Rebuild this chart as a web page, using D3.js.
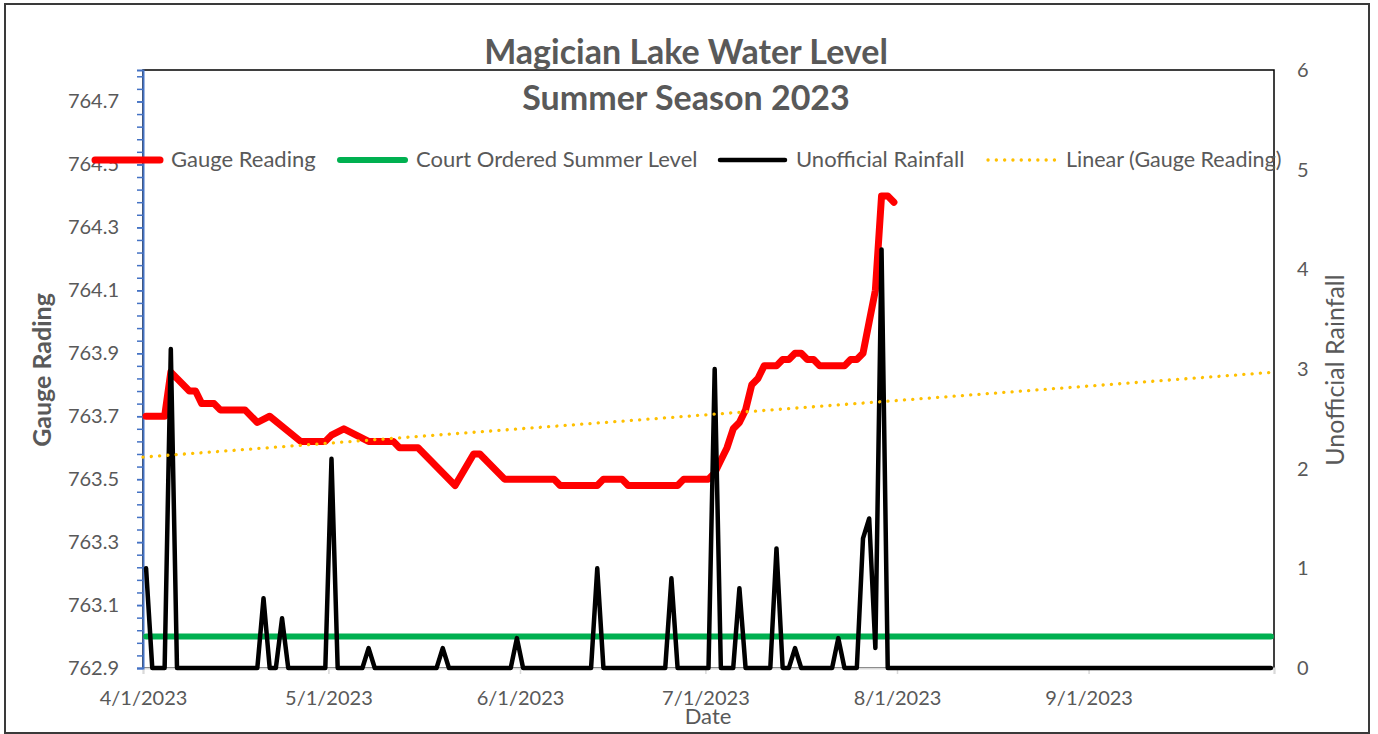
<!DOCTYPE html>
<html><head><meta charset="utf-8">
<script src="https://cdn.jsdelivr.net/npm/d3@7"></script>
<style>
body{margin:0;background:#fff}
text{font-family:Lato,"Open Sans",sans-serif;fill:#595959}
</style>
</head><body>
<svg id="chart" width="1378" height="734"></svg>
<script>
// ---- data ----
const gaugeDates = ["2023-04-01","2023-04-04","2023-04-05","2023-04-08","2023-04-09","2023-04-10","2023-04-12","2023-04-13","2023-04-17","2023-04-19","2023-04-21","2023-04-26","2023-04-30","2023-05-01","2023-05-03","2023-05-05","2023-05-07","2023-05-11","2023-05-12","2023-05-15","2023-05-21","2023-05-24","2023-05-25","2023-05-29","2023-06-06","2023-06-07","2023-06-13","2023-06-14","2023-06-17","2023-06-18","2023-06-26","2023-06-27","2023-07-01","2023-07-02","2023-07-03","2023-07-04","2023-07-05","2023-07-06","2023-07-07","2023-07-08","2023-07-09","2023-07-10","2023-07-12","2023-07-13","2023-07-14","2023-07-15","2023-07-16","2023-07-17","2023-07-18","2023-07-19","2023-07-23","2023-07-24","2023-07-25","2023-07-26","2023-07-27","2023-07-28","2023-07-29","2023-07-30","2023-07-31"];
const gaugeValues = [763.70,763.70,763.84,763.78,763.78,763.74,763.74,763.72,763.72,763.68,763.70,763.62,763.62,763.64,763.66,763.64,763.62,763.62,763.60,763.60,763.48,763.58,763.58,763.50,763.50,763.48,763.48,763.50,763.50,763.48,763.48,763.50,763.50,763.52,763.56,763.60,763.66,763.68,763.72,763.80,763.82,763.86,763.86,763.88,763.88,763.90,763.90,763.88,763.88,763.86,763.86,763.88,763.88,763.90,764.00,764.10,764.40,764.40,764.38];

const rainDates = ["2023-04-01","2023-04-02","2023-04-04","2023-04-05","2023-04-06","2023-04-19","2023-04-20","2023-04-21","2023-04-22","2023-04-23","2023-04-24","2023-04-30","2023-05-01","2023-05-02","2023-05-06","2023-05-07","2023-05-08","2023-05-18","2023-05-19","2023-05-20","2023-05-30","2023-05-31","2023-06-01","2023-06-12","2023-06-13","2023-06-14","2023-06-24","2023-06-25","2023-06-26","2023-07-01","2023-07-02","2023-07-03","2023-07-05","2023-07-06","2023-07-07","2023-07-11","2023-07-12","2023-07-13","2023-07-14","2023-07-15","2023-07-16","2023-07-21","2023-07-22","2023-07-23","2023-07-25","2023-07-26","2023-07-27","2023-07-28","2023-07-29","2023-07-30","2023-09-30"];
const rainValues = [1.0,0,0,3.2,0,0,0.7,0,0,0.5,0,0,2.1,0,0,0.2,0,0,0.2,0,0,0.3,0,0,1.0,0,0,0.9,0,0,3.0,0,0,0.8,0,0,1.2,0,0,0.2,0,0,0.3,0,0,1.3,1.5,0.2,4.2,0,0];

const courtDates = ["2023-04-01","2023-09-30"];
const courtValues = [763.0,763.0];

const trendDates = ["2023-04-01","2023-10-01"];
const trendValues = [763.57,763.84];

const leftMajorTicks = [762.9,763.1,763.3,763.5,763.7,763.9,764.1,764.3,764.5,764.7];
const leftMinorStep = 0.04;
const rightTicks = [0,1,2,3,4,5,6];
const xTickDates = ["2023-04-01","2023-05-01","2023-06-01","2023-07-01","2023-08-01","2023-09-01","2023-10-01"];
const xTickLabels = ["4/1/2023","5/1/2023","6/1/2023","7/1/2023","8/1/2023","9/1/2023",""];
const legendLabels = ["Gauge Reading","Court Ordered Summer Level","Unofficial Rainfall","Linear (Gauge Reading)"];
const titleLines = ["Magician Lake Water Level","Summer Season 2023"];

// ---- layout ----
const svg = d3.select("#chart");
const L = 143, R = 1274, T = 70, B = 668;
const parse = d3.utcParse("%Y-%m-%d");
const half = 12*3600*1000;
const x = d3.scaleUtc().domain([parse("2023-04-01"), parse("2023-10-01")]).range([L, R]);
const yL = d3.scaleLinear().domain([762.9, 764.8]).range([B, T]);
const yR = d3.scaleLinear().domain([0, 6]).range([B, T]);
const xc = s => x(new Date(parse(s).getTime() + half));

// outer border
svg.append("rect").attr("x",5).attr("y",4).attr("width",1364).attr("height",729)
  .attr("fill","#fff").attr("stroke","#3a3a3a").attr("stroke-width",2);

// plot border
svg.append("rect").attr("x",L).attr("y",T).attr("width",R-L).attr("height",B-T)
  .attr("fill","none").attr("stroke","#000").attr("stroke-width",1.5);

// x axis
const xAxis = svg.append("g").attr("transform",`translate(0,${B})`)
  .call(d3.axisBottom(x).tickValues(xTickDates.map(parse)).tickSize(6).tickPadding(17)
    .tickFormat((d,i)=>xTickLabels[i]));
xAxis.select(".domain").attr("stroke","#d9d9d9").attr("stroke-width",2);
xAxis.selectAll(".tick line").attr("stroke","#d9d9d9").attr("stroke-width",1.5);
xAxis.selectAll("text").style("font-size","20px").attr("fill","#595959");

// left axis (minor + major ticks)
const minorTicks = d3.range(0, Math.round((764.8-762.9)/leftMinorStep)+1).map(i=>762.9+i*leftMinorStep).filter(v=>v<=764.8+1e-9);
const yMinor = svg.append("g").attr("transform",`translate(${L},0)`)
  .call(d3.axisLeft(yL).tickValues(minorTicks).tickSize(6).tickFormat(""));
yMinor.select(".domain").attr("stroke","#4472c4").attr("stroke-width",2);
yMinor.selectAll(".tick line").attr("stroke","#4472c4").attr("stroke-width",1.5);
const yMajor = svg.append("g").attr("transform",`translate(${L},0)`)
  .call(d3.axisLeft(yL).tickValues(leftMajorTicks).tickSize(6).tickPadding(18).tickFormat(d3.format(".1f")));
yMajor.select(".domain").remove();
yMajor.selectAll(".tick line").attr("stroke","#4472c4").attr("stroke-width",1.5);
yMajor.selectAll("text").style("font-size","20px").attr("fill","#595959");

// right axis
const yRight = svg.append("g").attr("transform",`translate(${R},0)`)
  .call(d3.axisRight(yR).tickValues(rightTicks).tickSize(0).tickPadding(23).tickFormat(d3.format("d")));
yRight.select(".domain").remove();
yRight.selectAll("text").style("font-size","20px").attr("fill","#595959");

// series
const court = courtDates.map((d,i)=>({d, v:courtValues[i]}));
const gauge = gaugeDates.map((d,i)=>({d, v:gaugeValues[i]}));
const rain = rainDates.map((d,i)=>({d, v:rainValues[i]}));
const trend = trendDates.map((d,i)=>({d, v:trendValues[i]}));

svg.append("path").datum(court).attr("fill","none").attr("stroke","#00b050").attr("stroke-width",6)
  .attr("stroke-linecap","round")
  .attr("d", d3.line().x(p=>xc(p.d)).y(p=>yL(p.v)));
svg.append("path").datum(gauge).attr("fill","none").attr("stroke","#ff0000").attr("stroke-width",7)
  .attr("stroke-linecap","round").attr("stroke-linejoin","round")
  .attr("d", d3.line().x(p=>xc(p.d)).y(p=>yL(p.v)));
svg.append("path").datum(rain).attr("fill","none").attr("stroke","#000").attr("stroke-width",4.5)
  .attr("stroke-linecap","round").attr("stroke-linejoin","round")
  .attr("d", d3.line().x(p=>xc(p.d)).y(p=>yR(p.v)));
svg.append("path").datum(trend).attr("fill","none").attr("stroke","#ffc000").attr("stroke-width",3.3)
  .attr("stroke-linecap","round").attr("stroke-dasharray","0.1 8.2")
  .attr("d", d3.line().x(p=>x(parse(p.d))).y(p=>yL(p.v)));

// title
svg.selectAll(".title").data(titleLines).enter().append("text")
  .attr("x",686).attr("y",(d,i)=>64+i*46).attr("text-anchor","middle")
  .style("font-size","34px").style("font-weight","700").text(d=>d);

// axis titles
svg.append("text").attr("transform","translate(51,370) rotate(-90)").attr("text-anchor","middle")
  .style("font-size","25px").style("font-weight","700").text("Gauge Rading");
svg.append("text").attr("transform","translate(1344,370) rotate(-90)").attr("text-anchor","middle")
  .style("font-size","25px").text("Unofficial Rainfall");
svg.append("text").attr("x",708).attr("y",724).attr("text-anchor","middle")
  .style("font-size","22px").text("Date");

// legend
const legX = [95,340,720,988];
const legLen = [65,65,65,70];
const legStyles = [
  {c:"#ff0000",w:7,dash:null},
  {c:"#00b050",w:6,dash:null},
  {c:"#000",w:4.5,dash:null},
  {c:"#ffc000",w:3.3,dash:"0.1 8.2"}
];
const legY = 160;
legendLabels.forEach((lab,i)=>{
  const g = svg.append("g");
  const ln = g.append("line").attr("x1",legX[i]).attr("x2",legX[i]+legLen[i]).attr("y1",legY).attr("y2",legY)
    .attr("stroke",legStyles[i].c).attr("stroke-width",legStyles[i].w).attr("stroke-linecap","round");
  if (legStyles[i].dash) ln.attr("stroke-dasharray",legStyles[i].dash);
  g.append("text").attr("x",legX[i]+legLen[i]+(i===3?8:11)).attr("y",legY+7)
    .style("font-size", i===3 ? "21.5px" : "22px").text(lab);
});
</script>
</body></html>
